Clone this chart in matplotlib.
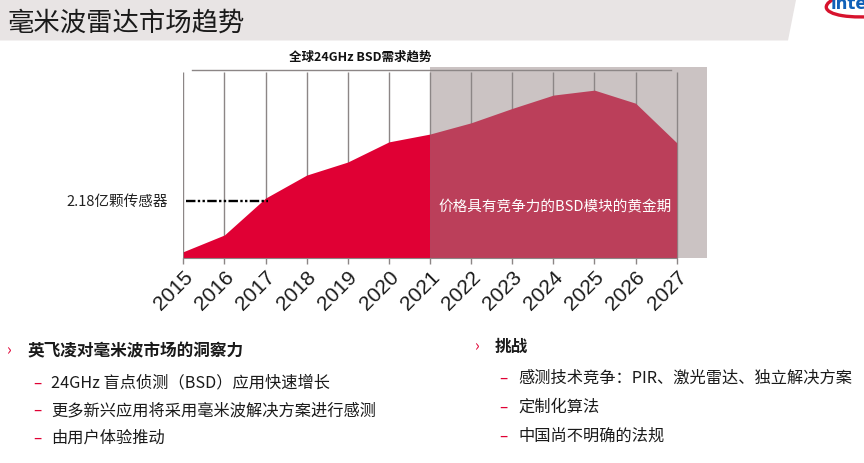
import matplotlib
matplotlib.use("Agg")
import matplotlib.pyplot as plt
from matplotlib.patches import Polygon, Rectangle, Ellipse

plt.rcParams['font.family'] = ['Noto Sans CJK SC', 'DejaVu Sans']

# Data (demand in 亿颗)
years = list(range(2015, 2028))
demand = [0.23, 0.87, 2.28, 3.16, 3.66, 4.43, 4.73, 5.16, 5.71, 6.22, 6.41, 5.91, 4.40]
split_year = 2021
marker_value = 2.18
marker_label = '2.18亿颗传感器'
chart_title = '全球24GHz BSD需求趋势'
golden_label = '价格具有竞争力的BSD模块的黄金期'
slide_title = '毫米波雷达市场趋势'

left_head = '英飞凌对毫米波市场的洞察力'
left_items = ['24GHz 盲点侦测（BSD）应用快速增长',
              '更多新兴应用将采用毫米波解决方案进行感测',
              '由用户体验推动']
right_head = '挑战'
right_items = ['感测技术竞争：PIR、激光雷达、独立解决方案',
               '定制化算法',
               '中国尚不明确的法规']

# Colours
RED = '#e00034'
ROSE = '#bb3f5a'
SHADE = '#cbc3c3'
GRID = '#8c8686'
BAND = '#e8e4e4'

W, H = 864, 463
fig = plt.figure(figsize=(W / 100, H / 100), dpi=100)

# background layer in pixel coordinates
bg = fig.add_axes([0, 0, 1, 1])
bg.set_xlim(0, W)
bg.set_ylim(H, 0)
bg.axis('off')

bg.add_patch(Polygon([(0, 0), (796, 0), (788, 40.5), (0, 40.5)], closed=True,
                     facecolor=BAND, edgecolor='none'))
bg.text(8, 23, slide_title, fontsize=19, color='#1a1a1a', va='center', ha='left')

# intel logo (partially cut off at the right edge, as on the slide)
bg.add_patch(Ellipse((878, 2), 104, 28, angle=-6, fill=False, edgecolor='#d7132d', lw=2.4))
bg.text(831, 4, 'intel', fontsize=12, color='#1060b8', fontweight='bold',
        va='center', ha='left', family='DejaVu Sans')

# chart
x0, x1 = 183.3, 706.7
yb, yt = 257.7, 70.0
ax = fig.add_axes([x0 / W, 1 - yb / H, (x1 - x0) / W, (yb - yt) / H])
ax.set_facecolor('none')
ymax = 7.18
ax.set_ylim(0, ymax)
ax.set_xlim(2015, 2027.73)

ax.add_patch(Rectangle((split_year, 0), 2027.73 - split_year, 7.31,
                       facecolor=SHADE, edgecolor='none', clip_on=False, zorder=0))
for yr in years:
    ax.plot([yr, yr], [0, ymax * 0.991], color=GRID, lw=1.0, zorder=1, solid_capstyle='butt')
ax.plot([2015.2, 2026.85], [ymax, ymax], color=GRID, lw=1.0, zorder=1, clip_on=False)

i = years.index(split_year)
ax.fill_between(years[:i + 1], 0, demand[:i + 1], color=RED, lw=0, zorder=2)
ax.fill_between(years[i:], 0, demand[i:], color=ROSE, lw=0, zorder=2)

ax.plot([2015.07, 2017.05], [marker_value, marker_value], color='black', lw=1.7,
        dashes=(4.0, 1.0, 1.0, 1.0, 1.0, 1.0), zorder=3, clip_on=False)
ax.text(2014.63, marker_value - 0.05, marker_label, fontsize=10.5, color='#222222',
        ha='right', va='center')

ax.text(2024.04, 1.92, golden_label, fontsize=10.5, color='white', ha='center', va='center', zorder=4)
ax.text(2019.3, ymax + 0.48, chart_title, fontsize=9, fontweight='bold', color='#111111',
        ha='center', va='center')

for s in ['top', 'right', 'left']:
    ax.spines[s].set_visible(False)
ax.spines['bottom'].set_color(GRID)
ax.spines['bottom'].set_bounds(2015, 2027)
ax.spines['bottom'].set_zorder(3)
ax.set_yticks([])
ax.set_xticks(years)
ax.set_xticklabels([str(y) for y in years], rotation=45, ha='right', rotation_mode='anchor',
                   fontsize=15, family='Liberation Sans', color='#1a1a1a')
ax.tick_params(axis='x', direction='out', length=4, width=1.0, color=GRID, pad=3)

# bullet text
def bullet_block(xm, xh, ym, head, xd, xt, ys, items):
    bg.text(xm, ym, '›', fontsize=11, color=RED, va='center', ha='left')
    bg.text(xh, ym, head, fontsize=12, fontweight='bold', color='#1a1a1a', va='center', ha='left')
    for yy, txt in zip(ys, items):
        bg.text(xd, yy, '–', fontsize=11, color=RED, va='center', ha='left')
        bg.text(xt, yy, txt, fontsize=11.7, color='#1a1a1a', va='center', ha='left')

bullet_block(6, 27.5, 351, left_head, 33, 51, [383, 410.5, 438.5], left_items)
bullet_block(474, 495, 347, right_head, 499, 518, [378.5, 407.5, 436], right_items)

fig.savefig('out.png', dpi=100)
